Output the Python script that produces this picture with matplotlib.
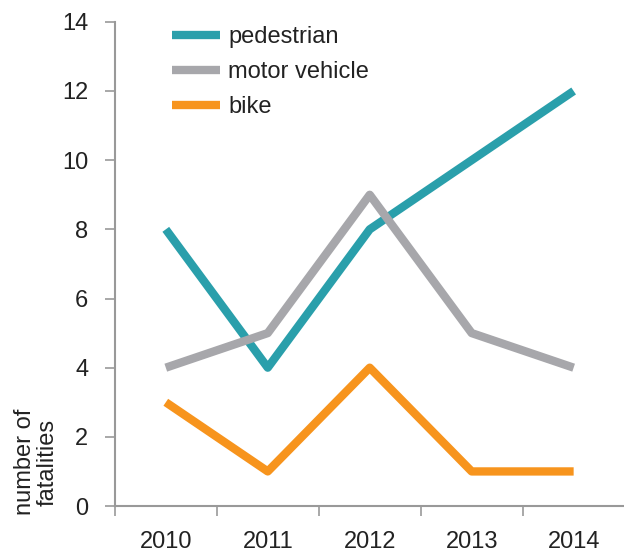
import matplotlib
matplotlib.use("Agg")
import matplotlib.pyplot as plt
import numpy as np

plt.rcParams['font.family'] = ['Liberation Sans', 'DejaVu Sans']

years = ['2010', '2011', '2012', '2013', '2014']
pedestrian = [8, 4, 8, 10, 12]
motor_vehicle = [4, 5, 9, 5, 4]
bike = [3, 1, 4, 1, 1]

fig = plt.figure(figsize=(6.24, 5.54), dpi=100)
ax = fig.add_axes([0.184, 0.0866, 0.817, 0.874])

x = np.arange(len(years))
lw = 6
ax.plot(x, pedestrian, color='#2a9fab', lw=lw, label='pedestrian', solid_capstyle='butt')
ax.plot(x, motor_vehicle, color='#a7a7ab', lw=lw, label='motor vehicle', solid_capstyle='butt')
ax.plot(x, bike, color='#f7941d', lw=lw, label='bike', solid_capstyle='butt')

ax.set_xlim(-0.5, len(years) - 0.5)
ax.set_ylim(0, 14)
ax.set_yticks(range(0, 15, 2))
ax.set_xticks(x)
ax.set_xticklabels(years)
ax.set_xticks(np.arange(-0.5, len(years)), minor=True)
ax.tick_params(axis='x', which='major', length=0, pad=18, labelsize=17, labelcolor='#222222')
ax.tick_params(axis='x', which='minor', length=7, width=1.2, color='#999999', direction='out')
ax.tick_params(axis='y', length=7, width=1.2, color='#999999', pad=12, labelsize=17, labelcolor='#222222')

for s in ['top', 'right']:
    ax.spines[s].set_visible(False)
for s in ['left', 'bottom']:
    ax.spines[s].set_color('#999999')
    ax.spines[s].set_linewidth(1.5)

leg = ax.legend(loc='upper left', bbox_to_anchor=(0.07, 1.035), frameon=False,
                fontsize=17, handlelength=2.05, handletextpad=0.35, labelspacing=0.55)
for t in leg.get_texts():
    t.set_color('#222222')

fig.text(0.058, 0.07, 'number of\nfatalities', rotation=90, fontsize=17,
         color='#222222', ha='center', va='bottom', linespacing=1.0)

fig.savefig('out.png', dpi=100)
